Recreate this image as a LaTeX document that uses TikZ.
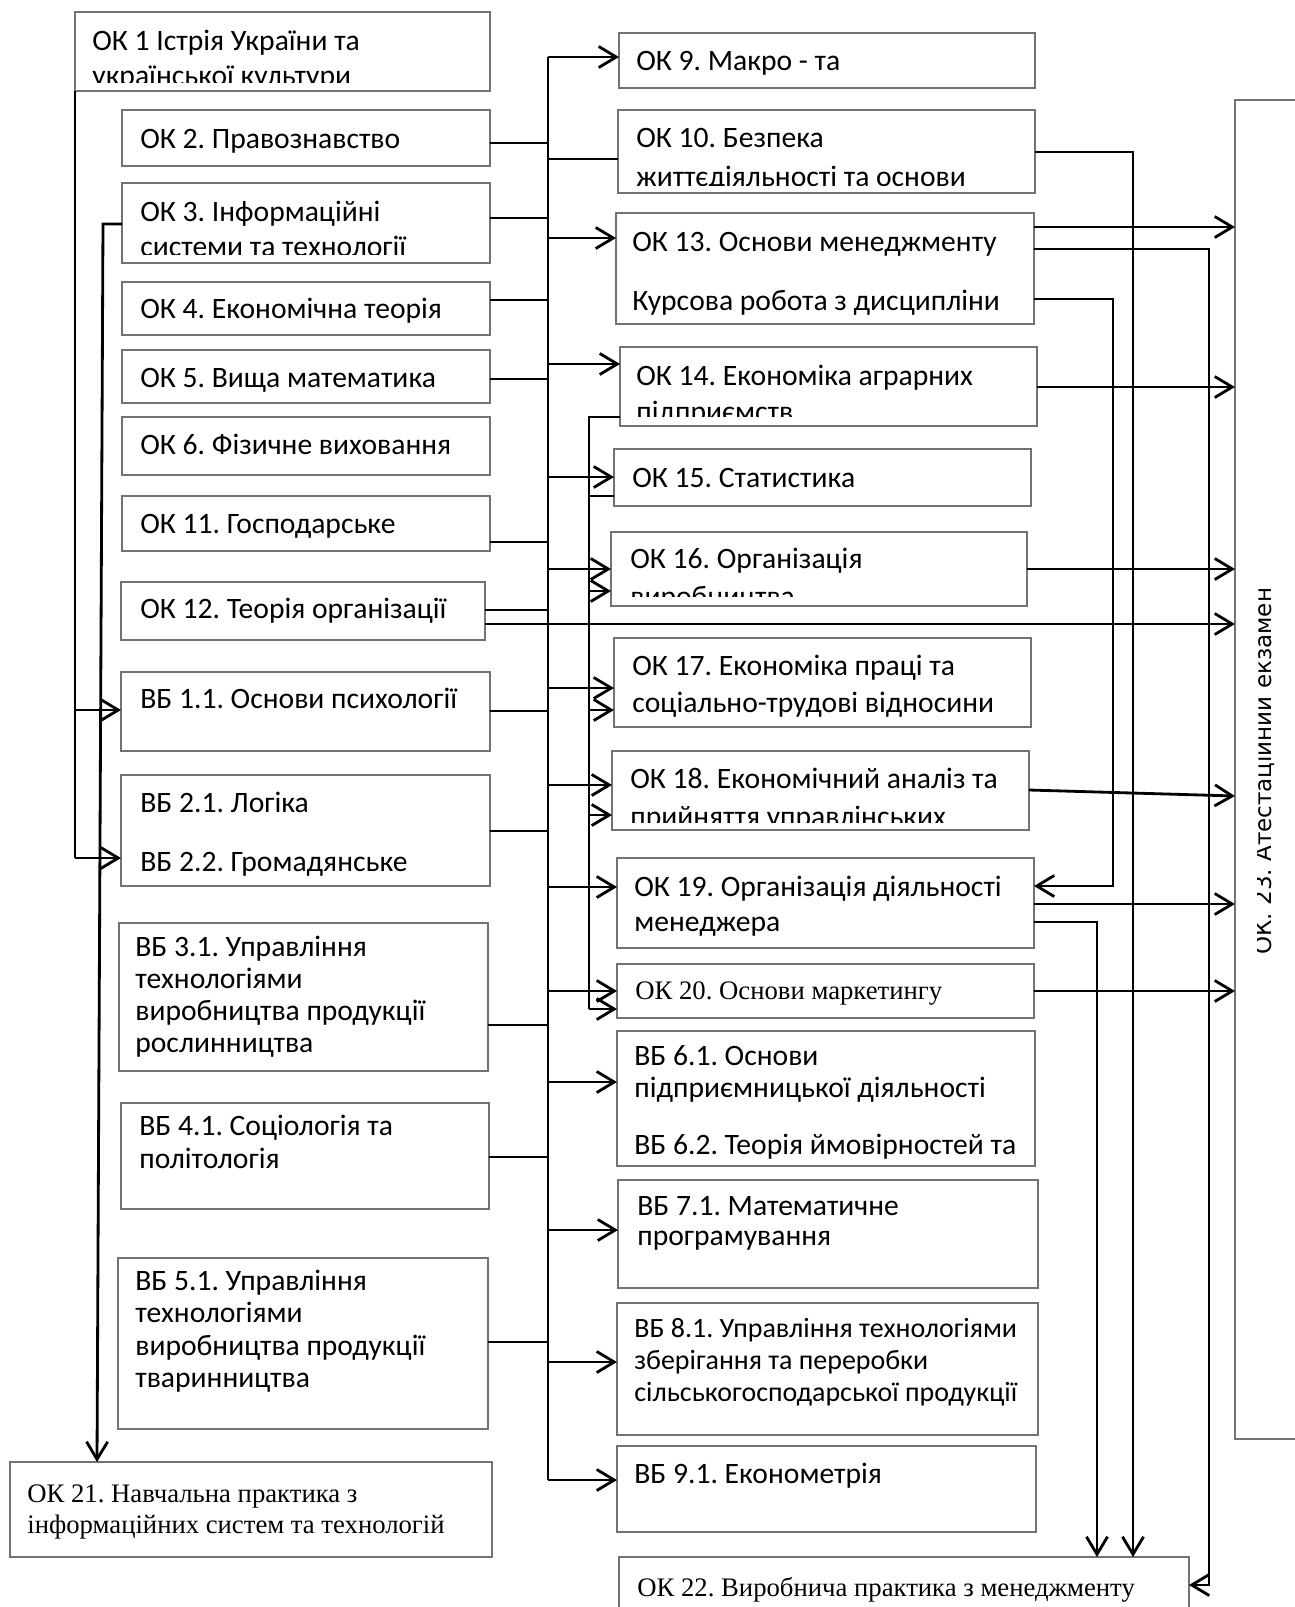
\documentclass[tikz,border=0pt]{standalone}
\usepackage{fontspec}
\setmainfont{Carlito}
\newfontfamily\carl{Carlito}
\newfontfamily\tms{Liberation Serif}
\newfontfamily\dvs{DejaVu Sans}
\usetikzlibrary{arrows.meta}
\frenchspacing
\definecolor{boxgray}{RGB}{115,115,115}
\newcommand\bx[5]{\node[box, minimum width={(#4-#2)*0.02cm}, minimum height={(#5-#3)*0.02cm}] (#1) at (#2,#3) {};}
\tikzset{
  box/.style={draw=boxgray, line width=0.6pt, inner sep=0pt, outer sep=0pt, anchor=north west},
  txt/.style={anchor=base west, inner sep=0pt, font={\carl\frenchspacing\fontsize{16.85}{19}\selectfont}},
  ntxt/.style={anchor=base west, inner sep=0pt, font={\carl\frenchspacing\fontsize{15.9}{19}\selectfont}},
  ttxt/.style={anchor=base west, inner sep=0pt, font={\tms\frenchspacing\fontsize{15.2}{17}\selectfont}},
  thinl/.style={line width=0.9pt},
  midl/.style={line width=1.1pt},
  arr/.style={line width=1.6pt, -{Straight Barb[length=10pt,width=12pt]}},
}
\begin{document}
\begin{tikzpicture}[x=0.02cm,y=-0.02cm]
\useasboundingbox (0,0) rectangle (1295,1607);

% ---------- left column ----------
\bx{ok1}{75}{12}{490}{91}
\begin{scope}\clip (75,12) rectangle (490,82);
\node[txt] (t1a) at (92,50) {ОК 1 Істрія України та};
\node[txt] (t1b) at (92,85) {української культури};
\end{scope}
\bx{ok2}{122}{110}{490}{166}
\node[txt] (t2) at (140,148) {ОК 2. Правознавство};
\bx{ok3}{122}{183}{490}{263}
\begin{scope}\clip (122,183) rectangle (490,254);
\node[txt] (t3a) at (140,221) {ОК 3. Інформаційні};
\node[txt] (t3b) at (140,256) {системи та технології};
\end{scope}
\bx{ok4}{122}{282}{490}{335}
\node[txt] (t4) at (140,318) {ОК 4. Економічна теорія};
\bx{ok5}{122}{350}{490}{403}
\node[txt] (t5) at (140,387) {ОК 5. Вища математика};
\bx{ok6}{122}{417}{490}{475}
\node[txt] (t6) at (140,454) {ОК 6. Фізичне виховання};
\bx{ok11}{122}{496}{490}{551}
\node[txt] (t11) at (140,533) {ОК 11. Господарське};
\bx{ok12}{121}{582}{485}{640}
\node[txt] (t12) at (140,618) {ОК 12. Теорія організації};
\bx{vb1}{121}{672}{490}{751}
\node[txt] (tv1) at (140,708) {ВБ 1.1. Основи психології};
\bx{vb2}{121}{775}{490}{886}
\node[txt] (tv2a) at (140,812) {ВБ 2.1. Логіка};
\node[txt] (tv2b) at (140,871) {ВБ 2.2. Громадянське};
\bx{vb3}{119}{923}{488}{1071}
\node[txt] (tv3a) at (135,956) {ВБ 3.1. Управління};
\node[txt] (tv3b) at (135,988) {технологіями};
\node[txt] (tv3c) at (135,1020) {виробництва продукції};
\node[txt] (tv3d) at (135,1052) {рослинництва};
\bx{vb4}{121}{1103}{489}{1209}
\node[txt] (tv4a) at (139,1135) {ВБ 4.1. Соціологія та};
\node[txt] (tv4b) at (139,1168) {політологія};
\bx{vb5}{118}{1258}{488}{1429}
\node[txt] (tv5a) at (135,1290) {ВБ 5.1. Управління};
\node[txt] (tv5b) at (135,1322) {технологіями};
\node[txt] (tv5c) at (135,1355) {виробництва продукції};
\node[txt] (tv5d) at (135,1387) {тваринництва};
\bx{ok21}{10}{1462}{492}{1557}
\node[ttxt] (t21a) at (27,1502) {ОК 21. Навчальна практика з};
\node[ttxt] (t21b) at (27,1533) {інформаційних систем та технологій};

% ---------- middle column ----------
\bx{ok9}{619}{33}{1035}{88}
\node[txt] (t9) at (636,70) {ОК 9. Макро - та};
\bx{ok10}{618}{110}{1035}{193}
\begin{scope}\clip (618,110) rectangle (1035,185);
\node[txt] (t10a) at (636,147) {ОК 10. Безпека};
\node[txt] (t10b) at (636,186) {життєдіяльності та основи};
\end{scope}
\bx{ok13}{616}{213}{1034}{324}
\node[txt] (t13a) at (632,251) {ОК 13. Основи менеджменту};
\node[txt] (t13b) at (632,310) {Курсова робота з дисципліни};
\bx{ok14}{620}{347}{1037}{426}
\begin{scope}\clip (620,347) rectangle (1037,416);
\node[txt] (t14a) at (636,385) {ОК 14. Економіка аграрних};
\node[txt] (t14b) at (636,421) {підприємств};
\end{scope}
\bx{ok15}{614}{449}{1031}{506}
\node[txt] (t15) at (632,487) {ОК 15. Статистика};
\bx{ok16}{611}{532}{1027}{606}
\begin{scope}\clip (611,532) rectangle (1027,596);
\node[txt] (t16a) at (630,568) {ОК 16. Організація};
\node[txt] (t16b) at (630,606) {виробництва};
\end{scope}
\bx{ok17}{614}{638}{1031}{727}
\node[txt] (t17a) at (632,675) {ОК 17. Економіка праці та};
\node[txt] (t17b) at (632,712) {соціально-трудові відносини};
\bx{ok18}{612}{751}{1029}{830}
\begin{scope}\clip (612,751) rectangle (1029,822);
\node[txt] (t18a) at (630,788) {ОК 18. Економічний аналіз та};
\node[txt] (t18b) at (630,826) {прийняття управлінських};
\end{scope}
\bx{ok19}{617}{858}{1034}{948}
\node[txt] (t19a) at (634,896) {ОК 19. Організація діяльності};
\node[txt] (t19b) at (634,931) {менеджера};
\bx{ok20}{617}{964}{1034}{1018}
\node[ttxt] (t20) at (635,999) {ОК 20. Основи маркетингу};
\bx{vb6}{617}{1031}{1035}{1166}
\node[txt] (tv6a) at (634,1065) {ВБ 6.1. Основи};
\node[txt] (tv6b) at (634,1097) {підприємницької діяльності};
\node[txt] (tv6c) at (634,1154) {ВБ 6.2. Теорія ймовірностей та};
\bx{vb7}{618}{1180}{1038}{1288}
\node[txt] (tv7a) at (637,1215) {ВБ 7.1. Математичне};
\node[txt] (tv7b) at (637,1245) {програмування};
\bx{vb8}{617}{1303}{1038}{1435}
\node[ntxt] (tv8a) at (634,1337) {ВБ 8.1. Управління технологіями};
\node[ntxt] (tv8b) at (634,1369) {зберігання та переробки};
\node[ntxt] (tv8c) at (634,1401) {сільськогосподарської продукції};
\bx{vb9}{617}{1446}{1036}{1532}
\node[txt] (tv9) at (634,1483) {ВБ 9.1. Економетрія};
\bx{ok22}{619}{1557}{1189}{1625}
\node[ttxt] (t22) at (637,1596) {ОК 22. Виробнича практика з менеджменту};

% ---------- right box ----------
\bx{ok23}{1235}{100}{1330}{1439}
\begin{scope}\clip (1257,100) rectangle (1295,1439);
\node[anchor=base west, rotate=90, inner sep=0pt, font={\dvs\frenchspacing\fontsize{13.1}{15}\selectfont}] (t23) at (1271,955) {ОК. 23. Атестаційний екзамен};
\end{scope}

% ---------- trunk A ----------
\coordinate (At) at (548,57);
\coordinate (Ab) at (548,1480);
\draw[thinl] (At) -- (Ab);
\foreach \n/\y in {ok2/143, ok3/218, ok4/300, ok5/379, ok11/542, ok12/610, vb1/711, vb2/831, vb3/1025, vb4/1157, vb5/1342}
  \draw[thinl] (\n.east |- 0,\y) -- (At |- 0,\y);
\draw[thinl] (At |- 0,159) -- (ok10.west |- 0,159);
\foreach \n/\y in {ok9/57, ok13/238, ok14/364, ok15/477, ok16/569, ok17/688, ok18/785, ok19/887, ok20/991, vb6/1082, vb7/1230, vb8/1362, vb9/1480}
  \draw[arr] (At |- 0,\y) -- (\n.west |- 0,\y);

% ---------- trunk C (from OK14) ----------
\coordinate (Ct) at (589,417);
\coordinate (Cb) at (589,1009);
\draw[midl] (ok14.west |- 0,417) -- (Ct) -- (Cb);
\draw[midl] (Ct |- 0,496) -- (ok15.west |- 0,496);
\foreach \n/\y in {ok16/591, ok17/710, ok18/815, ok20/1009}
  \draw[arr] (Ct |- 0,\y) -- (\n.west |- 0,\y);

% ---------- left lines ----------
\coordinate (Lb) at (75,858);
\draw[thinl] (ok1.south west) -- (Lb);
\draw[arr] (Lb |- 0,710) -- (vb1.west |- 0,710);
\draw[arr] (Lb) -- (vb2.west |- 0,858);
\coordinate (L2) at (103,224);
\draw[arr] (ok3.west |- 0,224) -- (L2) -- (ok21.north -| 97,0);

% ---------- right lines ----------
\draw[arr] (ok10.east |- 0,152) -- (1133,152) -- (ok22.north -| 1133,0);
\draw[arr] (ok13.east |- 0,227) -- (ok23.west |- 0,227);
\draw[arr] (ok13.east |- 0,249) -- (1209,249) -- (1209,1585) -- (ok22.east |- 0,1585);
\draw[arr] (ok13.east |- 0,299) -- (1113,299) -- (1113,886) -- (ok19.east |- 0,886);
\draw[arr] (ok14.east |- 0,387) -- (ok23.west |- 0,387);
\draw[arr] (ok16.east |- 0,569) -- (ok23.west |- 0,569);
\draw[arr] (ok12.east |- 0,624) -- (ok23.west |- 0,624);
\draw[arr] (ok18.east |- 0,790) -- (ok23.west |- 0,796);
\draw[arr] (ok19.east |- 0,904) -- (ok23.west |- 0,904);
\draw[arr] (ok19.east |- 0,922) -- (1097,922) -- (ok22.north -| 1097,0);
\draw[arr] (ok20.east |- 0,991) -- (ok23.west |- 0,991);
\end{tikzpicture}
\end{document}
